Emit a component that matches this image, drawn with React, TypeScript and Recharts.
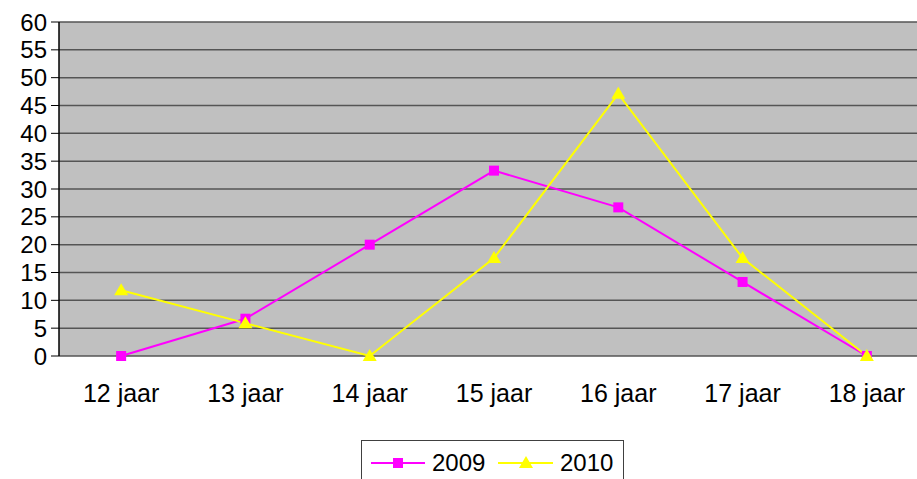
import React from "react";
import {
  LineChart,
  Line,
  XAxis,
  YAxis,
  CartesianGrid,
  Legend,
} from "recharts";

const categories = ["12 jaar", "13 jaar", "14 jaar", "15 jaar", "16 jaar", "17 jaar", "18 jaar"];
const values2009 = [0, 6.7, 20, 33.3, 26.7, 13.3, 0];
const values2010 = [11.8, 5.9, 0, 17.6, 47.1, 17.6, 0];
const yTicks = [0, 5, 10, 15, 20, 25, 30, 35, 40, 45, 50, 55, 60];

const MAGENTA = "#FF00FF";
const YELLOW = "#FFFF00";
const FONT = "'Liberation Sans', Arial, sans-serif";

const data = categories.map((name, i) => ({
  x: i + 0.5,
  name,
  y2009: values2009[i],
  y2010: values2010[i],
}));

const boundaryTicks = categories.map((_, i) => i).concat(categories.length);
const centerTicks = categories.map((_, i) => i + 0.5);

function SquareDot(props: any) {
  const { cx, cy } = props;
  if (cx == null || cy == null) return null;
  return <rect x={cx - 5} y={cy - 5} width={10} height={10} fill={MAGENTA} />;
}

function TriangleDot(props: any) {
  const { cx, cy } = props;
  if (cx == null || cy == null) return null;
  return (
    <polygon
      points={`${cx},${cy - 7} ${cx - 7},${cy + 5} ${cx + 7},${cy + 5}`}
      fill={YELLOW}
    />
  );
}

function LegendBox() {
  return (
    <div
      style={{
        width: 263,
        height: 46,
        boxSizing: "border-box",
        border: "1px solid #404040",
        background: "#fff",
        fontFamily: FONT,
        fontSize: 24,
      }}
    >
      <svg width={261} height={44}>
        <line x1={9} y1={22} x2={63} y2={22} stroke={MAGENTA} strokeWidth={2} />
        <rect x={31} y={17} width={10} height={10} fill={MAGENTA} />
        <text x={70} y={30} fill="#000">2009</text>
        <line x1={136} y1={22} x2={191} y2={22} stroke={YELLOW} strokeWidth={2} />
        <polygon points="164,15 157,27 171,27" fill={YELLOW} />
        <text x={198} y={30} fill="#000">2010</text>
      </svg>
    </div>
  );
}

export default function App() {
  return (
    <div
      style={{
        position: "absolute",
        left: 0,
        top: 0,
        width: 917,
        height: 479,
        overflow: "hidden",
        background: "#fff",
      }}
    >
      <LineChart
        width={930}
        height={490}
        data={data}
        margin={{ top: 22, right: 1, left: 0, bottom: 0 }}
        style={{ fontFamily: FONT }}
      >
        <CartesianGrid
          vertical={false}
          stroke="#555555"
          strokeWidth={1.5}
          fill="#C0C0C0"
          fillOpacity={1}
        />
        <XAxis
          xAxisId="ticks"
          type="number"
          domain={[0, 7]}
          ticks={boundaryTicks}
          tick={false}
          tickSize={7}
          height={0}
          axisLine={{ stroke: "#000", strokeWidth: 1.5 }}
          tickLine={{ stroke: "#000" }}
        />
        <XAxis
          xAxisId="labels"
          dataKey="x"
          type="number"
          domain={[0, 7]}
          ticks={centerTicks}
          tickFormatter={(v: number) => categories[Math.floor(v)]}
          axisLine={false}
          tickLine={false}
          tickSize={0}
          tickMargin={28}
          height={88}
          tick={{ fontSize: 25, fill: "#000" }}
        />
        <YAxis
          domain={[0, 60]}
          ticks={yTicks}
          interval={0}
          width={59}
          tickSize={8}
          tickMargin={4}
          axisLine={{ stroke: "#000", strokeWidth: 1.5 }}
          tickLine={{ stroke: "#000" }}
          tick={{ fontSize: 24, fill: "#000" }}
        />
        <Line
          xAxisId="labels"
          type="linear"
          dataKey="y2009"
          name="2009"
          stroke={MAGENTA}
          strokeWidth={2}
          dot={<SquareDot />}
          activeDot={false}
          isAnimationActive={false}
        />
        <Line
          xAxisId="labels"
          type="linear"
          dataKey="y2010"
          name="2010"
          stroke={YELLOW}
          strokeWidth={2}
          dot={<TriangleDot />}
          activeDot={false}
          isAnimationActive={false}
        />
        <Legend
          verticalAlign="bottom"
          content={() => <LegendBox />}
          wrapperStyle={{ left: 361, top: 440, width: 263, height: 46 }}
        />
      </LineChart>
    </div>
  );
}
